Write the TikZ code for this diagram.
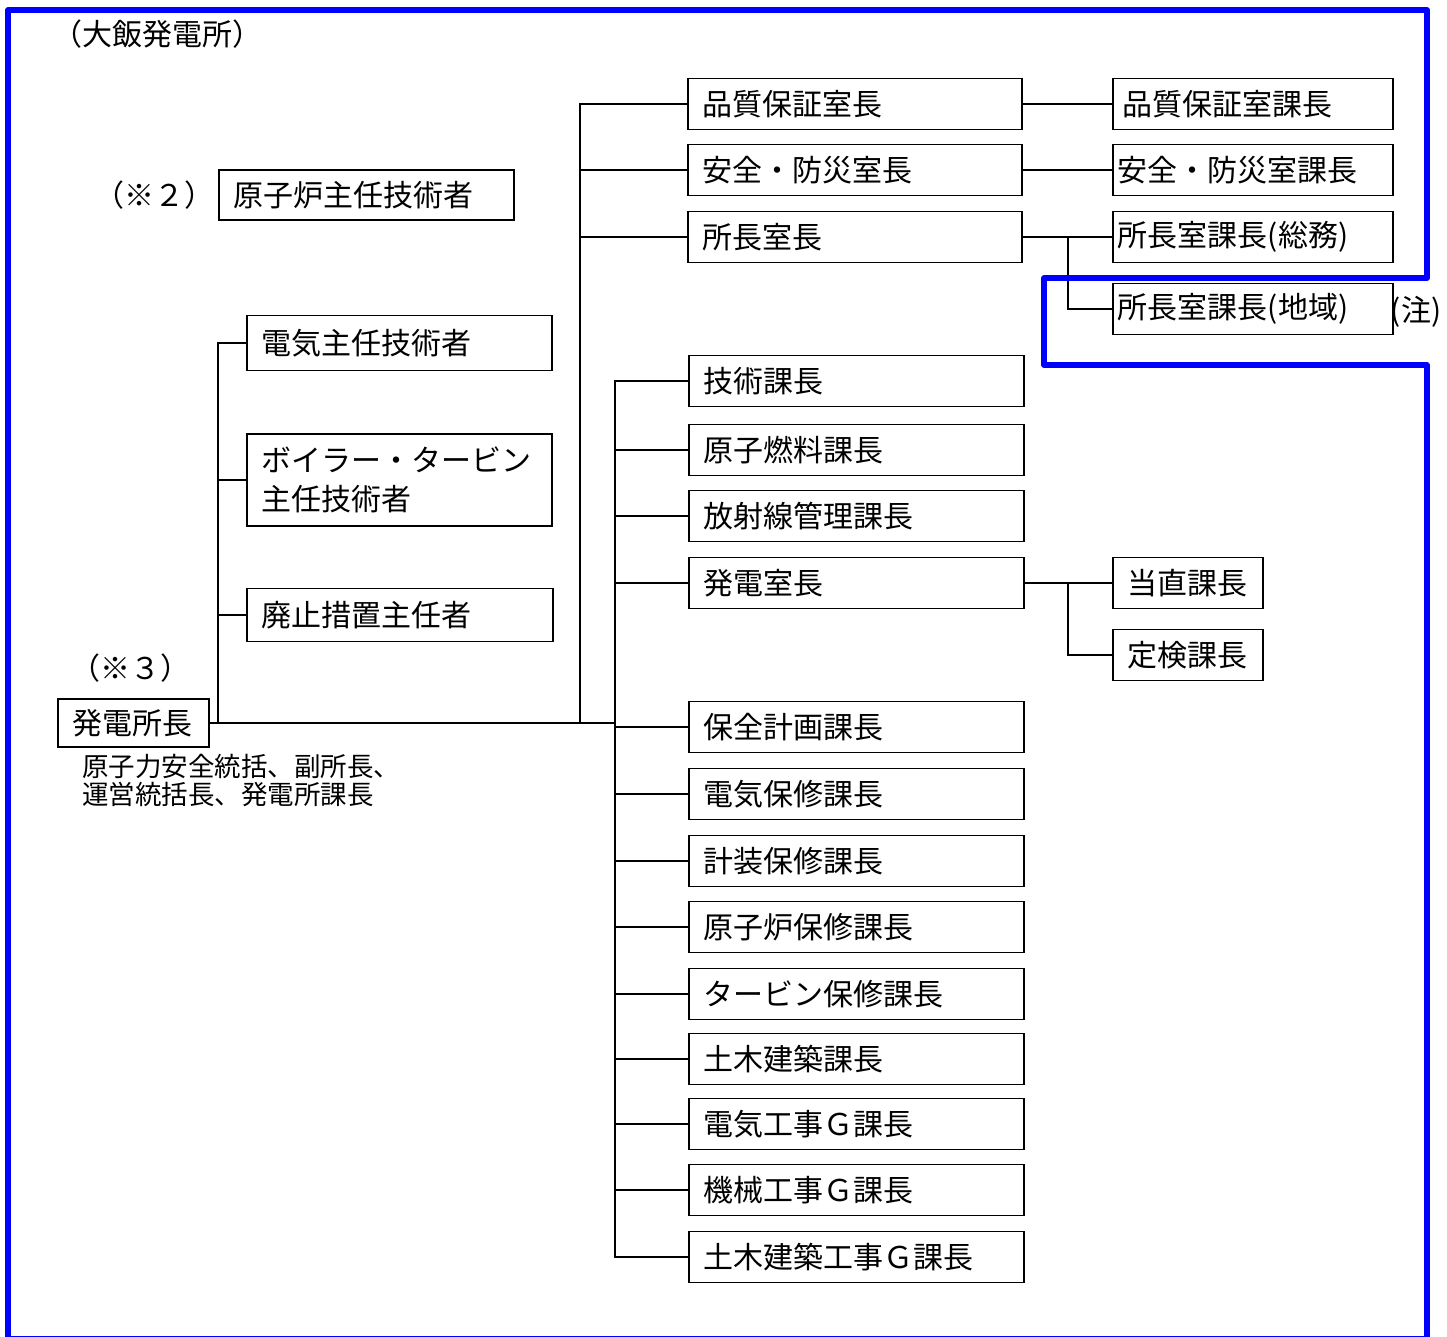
\documentclass[tikz,border=0pt]{standalone}
\usepackage{fontspec}
\setmainfont{Noto Sans CJK JP}

\begin{document}
\begin{tikzpicture}[
    x = 1pt, y = -1pt,
    every node/.style = {font = \fontsize{30}{39}\selectfont},
    post/.style = {draw, line width = 1.8pt, anchor = west, align = left,
        inner xsep = 15pt, inner ysep = 0pt, text width = #1, minimum height = 51pt},
    post/.default = 305pt,
    sub/.style = {post = 270pt, inner xsep = 5pt},
    link/.style = {line width = 1.8pt},
    frame/.style = {blue, line width = 5.5pt, line join = round}]

\useasboundingbox (0,0) rectangle (1447,1337);

\coordinate (sL) at (218,0);
\coordinate (sM) at (580,0);
\coordinate (sR) at (615,0);
\coordinate (sK) at (1068,0);

% left side
\node (station) at (157,34) {（大飯発電所）};
\node (mark2) at (154,195) {（※２）};
\node[post = 265pt, minimum height = 50pt] (reactor) at (218,195) {原子炉主任技術者};
\node[post = 275pt, minimum height = 55pt] (elec) at (246,343) {電気主任技術者};
\node[post = 275pt, minimum height = 92pt] (boiler) at (246,480) {ボイラー・タービン\\主任技術者};
\node[post = 276pt, minimum height = 53pt] (decom) at (246,615) {廃止措置主任者};
\node (mark3) at (130,668) {（※３）};
\node[post = 121pt, minimum height = 48pt] (chief) at (57,723) {発電所長};
\node[anchor = north west, align = left, inner sep = 0pt,
      font = \fontsize{26.5}{28}\selectfont] (duty) at (82,754)
      {原子力安全統括、副所長、\\運営統括長、発電所課長};

% top offices
\node[post = 304pt] (qa) at (687,104) {品質保証室長};
\node[post = 304pt] (safety) at (687,170) {安全・防災室長};
\node[post = 304pt] (office) at (687,237) {所長室長};
\node[sub, inner xsep = 10pt, text width = 260pt] (qa2) at (1112,104) {品質保証室課長};
\node[sub] (safety2) at (1112,170) {安全・防災室課長};
\node[sub] (general) at (1112,237) {所長室課長(総務)};
\node[sub] (local) at (1112,309) {所長室課長(地域)};
\node (remark) at (1416,312) {(注)};

% sections
\foreach \n/\y/\t in {tech/381/技術課長, fuel/450/原子燃料課長, rad/516/放射線管理課長,
    ctrl/583/発電室長, plan/727/保全計画課長, elecm/794/電気保修課長,
    inst/861/計装保修課長, reacm/927/原子炉保修課長, turb/994/タービン保修課長,
    civil/1059/土木建築課長, elecw/1124/電気工事Ｇ課長, mechw/1190/機械工事Ｇ課長,
    civilw/1257/土木建築工事Ｇ課長}
    \node[post] (\n) at (688,\y) {\t};
\node[post = 120pt] (shift) at (1112,583) {当直課長};
\node[post = 120pt] (insp) at (1112,655) {定検課長};

% lines
\draw[link] (chief.east) -- (sR |- chief.east);
\draw[link] (elec.west) -| (sL |- chief.east);
\foreach \n in {boiler, decom}
    \draw[link] (sL |- \n.west) -- (\n.west);
\draw[link] (qa.west) -| (sM |- chief.east);
\foreach \n in {safety, office}
    \draw[link] (sM |- \n.west) -- (\n.west);
\draw[link] (tech.west) -| (sR |- civilw.west) -- (civilw.west);
\foreach \n in {fuel, rad, ctrl, plan, elecm, inst, reacm, turb, civil, elecw, mechw}
    \draw[link] (sR |- \n.west) -- (\n.west);
\draw[link] (qa.east) -- (qa2.west);
\draw[link] (safety.east) -- (safety2.west);
\draw[link] (office.east) -- (general.west);
\draw[link] (sK |- office.east) |- (local.west);
\draw[link] (ctrl.east) -- (shift.west);
\draw[link] (sK |- ctrl.east) |- (insp.west);

% blue frame
\draw[frame] (8,1339) -- (8,10) -- (1427,10) -- (1427,278) -- (1044,278)
    -- (1044,365) -- (1427,365) -- (1427,1339) -- cycle;
\end{tikzpicture}
\end{document}
